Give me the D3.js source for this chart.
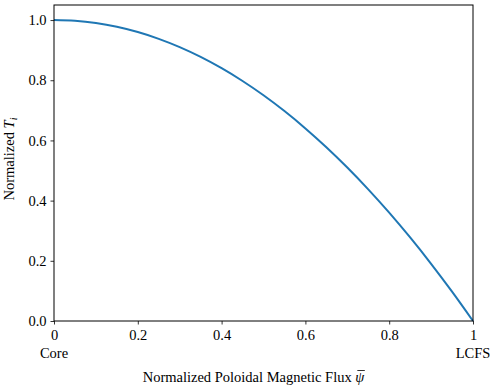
<!DOCTYPE html>
<html><head><meta charset="utf-8">
<script src="https://cdn.jsdelivr.net/npm/d3@7"></script>
</head><body style="margin:0;background:#fff"><svg id="c" width="498" height="388" style="display:block" font-family="Liberation Serif"></svg>
<script>
const psi = [0,0.05,0.1,0.15,0.2,0.25,0.3,0.35,0.4,0.45,0.5,0.55,0.6,0.65,0.7,0.75,0.8,0.85,0.9,0.95,1.0];
const ti  = [1.0,0.9975,0.99,0.9775,0.96,0.9375,0.91,0.8775,0.84,0.7975,0.75,0.6975,0.64,0.5775,0.51,0.4375,0.36,0.2775,0.19,0.0975,0.0];
const xTicks = [0,0.2,0.4,0.6,0.8,1];
const xTickLabels = ["0","0.2","0.4","0.6","0.8","1"];
const yTicks = [0,0.2,0.4,0.6,0.8,1.0];
const yTickLabels = ["0.0","0.2","0.4","0.6","0.8","1.0"];

const FONT = "Liberation Serif";
const FS = 14.5;
const svg = d3.select("#c");
const L=54,R=473,T=5,B=321;
const x = d3.scaleLinear().domain([0,1]).range([L,R]);
const y = d3.scaleLinear().domain([0,1.05]).range([B,T]);

const line = d3.line().x((d,i)=>x(psi[i])).y(d=>y(d)).curve(d3.curveMonotoneX);
svg.append("path").datum(ti).attr("d",line).attr("fill","none").attr("stroke","#1f77b4").attr("stroke-width",2);

const xa = svg.append("g").attr("transform",`translate(0,${B})`)
  .call(d3.axisBottom(x).tickValues(xTicks).tickFormat((d,i)=>xTickLabels[i]).tickSize(3.5).tickPadding(3));
const ya = svg.append("g").attr("transform",`translate(${L},0)`)
  .call(d3.axisLeft(y).tickValues(yTicks).tickFormat((d,i)=>yTickLabels[i]).tickSize(3.5).tickPadding(4));
[xa,ya].forEach(a=>{a.attr("font-family",null).attr("font-size",null);a.select(".domain").remove();
  a.selectAll("text").attr("fill","#000").attr("font-family",FONT).attr("font-size",FS);
  a.selectAll("line").attr("stroke","#000").attr("stroke-width",0.8);});
xa.selectAll("text").attr("dy","0.85em");

svg.append("rect").attr("x",L).attr("y",T).attr("width",R-L).attr("height",B-T).attr("fill","none").attr("stroke","#000").attr("stroke-width",1);

svg.append("text").attr("x",x(0)).attr("y",358).attr("text-anchor","middle").attr("font-family",FONT).attr("font-size",FS).text("Core");
svg.append("text").attr("x",x(1)).attr("y",358).attr("text-anchor","middle").attr("font-family",FONT).attr("font-size",FS).text("LCFS");

const xl = svg.append("text").attr("x",(L+R)/2-10).attr("y",382).attr("text-anchor","middle").attr("font-family",FONT).attr("font-size",FS);
xl.append("tspan").text("Normalized Poloidal Magnetic Flux ");
xl.append("tspan").attr("font-style","italic").text("ψ");
const full = xl.node().getBBox();
svg.append("line").attr("x1",full.x+full.width-8).attr("x2",full.x+full.width-0.5).attr("y1",370.5).attr("y2",370.5).attr("stroke","#000").attr("stroke-width",0.8);

const yl = svg.append("text").attr("transform",`translate(14,${(T+B)/2-4}) rotate(-90)`).attr("text-anchor","middle").attr("font-family",FONT).attr("font-size",FS);
yl.append("tspan").text("Normalized ");
yl.append("tspan").attr("font-style","italic").text("T");
yl.append("tspan").attr("font-style","italic").attr("font-size",10).attr("dy",3).text("i");
</script></body></html>
